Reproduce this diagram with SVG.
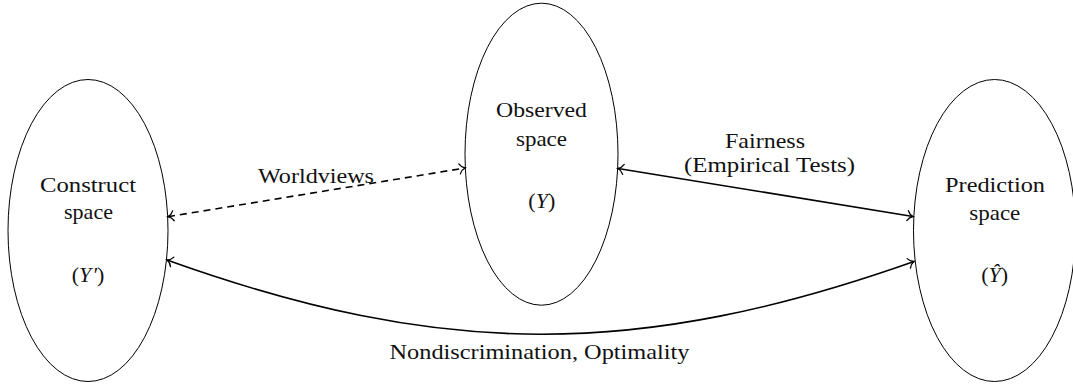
<svg xmlns="http://www.w3.org/2000/svg" width="1073" height="388" viewBox="0 0 1073 388">
<style>
.node ellipse{fill:none;stroke:#000;stroke-width:1}
text{font-family:'Liberation Serif','Times New Roman',serif;font-size:22px;fill:#111;text-anchor:middle}
.m{font-style:italic}
.edge{fill:none;stroke:#000;stroke-width:1.6;marker-start:url(#to);marker-end:url(#to)}
.dash{stroke-dasharray:7 5}
</style>
<defs>
<marker id="to" markerUnits="userSpaceOnUse" viewBox="-8 -7 10 14" refX="0" refY="0" markerWidth="10" markerHeight="14" orient="auto-start-reverse" overflow="visible">
<path d="M -5.5 -5 C -4 -2 -1.5 -0.5 0 0 C -1.5 0.5 -4 2 -5.5 5" fill="none" stroke="#000" stroke-width="1.3" stroke-linecap="round"/>
</marker>
</defs>
<g id="construct" class="node">
<ellipse cx="88" cy="230.5" rx="80" ry="151"/>
<text x="88" y="191.5" textLength="96" lengthAdjust="spacingAndGlyphs">Construct</text>
<text x="88.5" y="219" textLength="49" lengthAdjust="spacingAndGlyphs">space</text>
<text x="88" y="282">(<tspan class="m">Y</tspan><tspan class="m" dx="1">′</tspan>)</text>
</g>
<g id="observed" class="node">
<ellipse cx="541.5" cy="154.2" rx="76.5" ry="151"/>
<text x="541.5" y="117.3" textLength="91" lengthAdjust="spacingAndGlyphs">Observed</text>
<text x="541.5" y="145.7" textLength="51" lengthAdjust="spacingAndGlyphs">space</text>
<text x="541.8" y="208.3">(<tspan class="m">Y</tspan>)</text>
</g>
<g id="prediction" class="node">
<ellipse cx="994.5" cy="230.5" rx="81" ry="151"/>
<text x="995" y="191.7" textLength="100" lengthAdjust="spacingAndGlyphs">Prediction</text>
<text x="994.8" y="220" textLength="51" lengthAdjust="spacingAndGlyphs">space</text>
<text x="994.7" y="281.7">(<tspan class="m">Ŷ</tspan>)</text>
</g>
<g id="connectors">
<line class="edge dash" x1="168" y1="216.7" x2="465" y2="168"/>
<line class="edge" x1="618" y1="168.5" x2="913" y2="216.5"/>
<path class="edge" d="M 167 260 C 442 358.7 639 358.7 914 261.5"/>
</g>
<g id="labels">
<text x="316" y="183.3" textLength="116" lengthAdjust="spacingAndGlyphs">Worldviews</text>
<text x="765" y="148.3" textLength="80" lengthAdjust="spacingAndGlyphs">Fairness</text>
<text x="769.5" y="171.7" textLength="171" lengthAdjust="spacingAndGlyphs">(Empirical Tests)</text>
<text x="539.5" y="359" textLength="300" lengthAdjust="spacingAndGlyphs">Nondiscrimination, Optimality</text>
</g>
</svg>
